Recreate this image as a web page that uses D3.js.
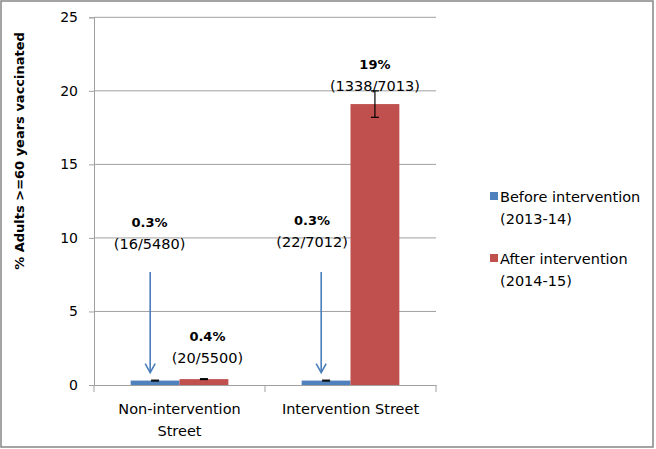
<!DOCTYPE html>
<html>
<head>
<meta charset="utf-8">
<script src="https://cdn.jsdelivr.net/npm/d3@7"></script>
<style>
  html, body { margin: 0; padding: 0; background: #fff; }
  svg { display: block; }
  text { font-family: "DejaVu Sans", Verdana, sans-serif; }
</style>
</head>
<body>
<svg id="chart" width="656" height="449"></svg>
<script>
// ---- data ----
const categories = ["Non-intervention Street", "Intervention Street"];
const categoryLines = [["Non-intervention", "Street"], ["Intervention Street"]];
const seriesNames = ["Before intervention (2013-14)", "After intervention (2014-15)"];
const legendLines = [["Before intervention", "(2013-14)"], ["After intervention", "(2014-15)"]];
const beforeValues = [0.3, 0.3];
const afterValues = [0.4, 19.1];
const beforeErrLow = [0.27, 0.27];
const beforeErrHigh = [0.33, 0.33];
const afterErrLow = [0.37, 18.2];
const afterErrHigh = [0.43, 20.0];
const beforePct = ["0.3%", "0.3%"];
const beforeCounts = ["(16/5480)", "(22/7012)"];
const afterPct = ["0.4%", "19%"];
const afterCounts = ["(20/5500)", "(1338/7013)"];
const yTicks = [0, 5, 10, 15, 20, 25];
const yTitle = "% Adults >=60 years vaccinated";
const colors = ["#4f81bd", "#c0504d"];

// ---- layout ----
const svg = d3.select("#chart");
const plot = { left: 94, right: 436, top: 17.3, bottom: 385 };

svg.append("rect")
  .attr("x", 1).attr("y", 1).attr("width", 652).attr("height", 446)
  .attr("fill", "#fff").attr("stroke", "#868686").attr("stroke-width", 1.5);

const x = d3.scaleBand().domain(categories).range([plot.left, plot.right]).padding(0);
const bw = x.bandwidth();
const xs = d3.scaleBand().domain(seriesNames)
  .range([bw * 0.75 / 3.5, bw * 2.75 / 3.5]).padding(0);
const y = d3.scaleLinear().domain([0, 25]).range([plot.bottom, plot.top]);

// gridlines
svg.append("g").selectAll("line").data(yTicks.filter(d => d > 0)).join("line")
  .attr("x1", plot.left).attr("x2", plot.right)
  .attr("y1", d => y(d)).attr("y2", d => y(d))
  .attr("stroke", "#a0a0a0").attr("stroke-width", 1);

// y axis
const yAxis = svg.append("g").attr("transform", `translate(${plot.left},0)`)
  .call(d3.axisLeft(y).tickValues(yTicks).tickSize(5).tickPadding(11));
yAxis.select(".domain").attr("stroke", "#a0a0a0");
yAxis.selectAll(".tick line").attr("stroke", "#a0a0a0");
yAxis.selectAll(".tick text").attr("font-size", 14).attr("fill", "#000")
  .attr("font-family", "DejaVu Sans");

// x axis
const xAxis = svg.append("g").attr("transform", `translate(0,${plot.bottom})`)
  .call(d3.axisBottom(x).tickSize(0).tickFormat(""));
xAxis.select(".domain").attr("stroke", "#a0a0a0");
xAxis.selectAll(".tick").remove();
const xTickPos = [plot.left].concat(categories.map(c => x(c) + bw));
svg.append("g").selectAll("line").data(xTickPos).join("line")
  .attr("x1", d => d).attr("x2", d => d)
  .attr("y1", plot.bottom).attr("y2", plot.bottom + 7)
  .attr("stroke", "#a0a0a0");

// category labels
categories.forEach((c, i) => {
  const t = svg.append("text").attr("x", x(c) + bw / 2).attr("y", 414)
    .attr("text-anchor", "middle").attr("font-size", 14.5).attr("fill", "#000");
  categoryLines[i].forEach((ln, j) => {
    t.append("tspan").attr("x", x(c) + bw / 2).attr("dy", j === 0 ? 0 : 21.5).text(ln);
  });
});

// bars
const seriesData = [beforeValues, afterValues];
const errLow = [beforeErrLow, afterErrLow];
const errHigh = [beforeErrHigh, afterErrHigh];
seriesData.forEach((vals, s) => {
  svg.append("g").selectAll("rect").data(categories).join("rect")
    .attr("x", c => x(c) + xs(seriesNames[s]))
    .attr("width", xs.bandwidth())
    .attr("y", (c, i) => y(vals[i]))
    .attr("height", (c, i) => y(0) - y(vals[i]))
    .attr("fill", colors[s]);
});

// error bars
seriesData.forEach((vals, s) => {
  categories.forEach((c, i) => {
    const cx = x(c) + xs(seriesNames[s]) + xs.bandwidth() / 2;
    const g = svg.append("g").attr("stroke", "#000").attr("stroke-width", 1.2);
    const yl = y(errLow[s][i]), yh = y(errHigh[s][i]);
    g.append("line").attr("x1", cx).attr("x2", cx).attr("y1", yl).attr("y2", yh);
    g.append("line").attr("x1", cx - 4).attr("x2", cx + 4).attr("y1", yl).attr("y2", yl);
    g.append("line").attr("x1", cx - 4).attr("x2", cx + 4).attr("y1", yh).attr("y2", yh);
  });
});

// arrows pointing to small "before" bars
categories.forEach((c, i) => {
  const cx = x(c) + xs(seriesNames[0]) + xs.bandwidth() * 0.4;
  const top = 272, tip = y(beforeValues[i]) - 8;
  const g = svg.append("g").attr("stroke", "#4a7ebb").attr("stroke-width", 1.6).attr("fill", "none");
  g.append("line").attr("x1", cx).attr("x2", cx).attr("y1", top).attr("y2", tip);
  g.append("path").attr("d", `M${cx - 5},${tip - 9} L${cx},${tip} L${cx + 5},${tip - 9}`);
});

// annotations
function annotate(cx, cy, pct, cnt) {
  svg.append("text").attr("x", cx).attr("y", cy + 5).attr("text-anchor", "middle")
    .attr("font-size", 13).attr("font-weight", "bold").attr("fill", "#000").text(pct);
  svg.append("text").attr("x", cx).attr("y", cy + 27).attr("text-anchor", "middle")
    .attr("font-size", 14.5).attr("fill", "#000").text(cnt);
}
const beforeLabelDx = [-5.5, -14];
const beforeLabelY = [221.5, 220];
categories.forEach((c, i) => {
  const bx = x(c) + xs(seriesNames[0]) + xs.bandwidth() / 2;
  annotate(bx + beforeLabelDx[i], beforeLabelY[i], beforePct[i], beforeCounts[i]);
});
const afterLabelDx = [3.5, 0];
const afterLabelY = [336, 64];
categories.forEach((c, i) => {
  const ax = x(c) + xs(seriesNames[1]) + xs.bandwidth() / 2;
  annotate(ax + afterLabelDx[i], afterLabelY[i], afterPct[i], afterCounts[i]);
});

// y title
svg.append("text").attr("transform", "translate(24,151) rotate(-90)")
  .attr("text-anchor", "middle").attr("font-size", 13).attr("font-weight", "bold")
  .attr("fill", "#000").text(yTitle);

// legend
const lg = svg.append("g");
legendLines.forEach((lines, s) => {
  const top = s === 0 ? 192 : 254;
  lg.append("rect").attr("x", 490).attr("y", top).attr("width", 8).attr("height", 8).attr("fill", colors[s]);
  lines.forEach((ln, j) => {
    lg.append("text").attr("x", 500).attr("y", top + 10 + j * 22)
      .attr("font-size", 14.5).attr("fill", "#000").text(ln);
  });
});
</script>
</body>
</html>
